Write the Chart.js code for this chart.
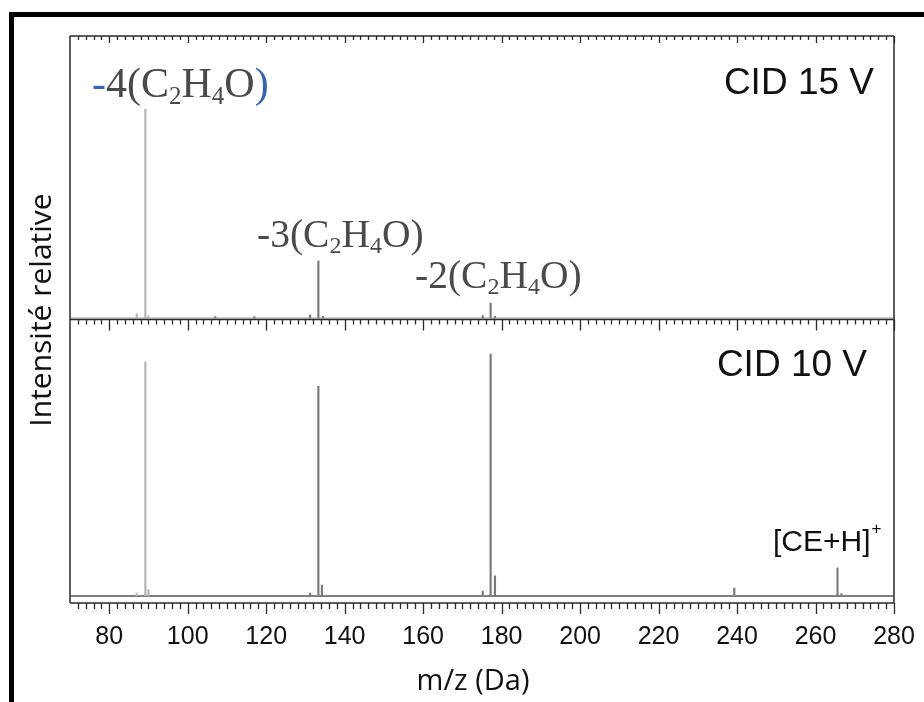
<!DOCTYPE html>
<html>
<head>
<meta charset="utf-8">
<script src="https://cdn.jsdelivr.net/npm/chart.js@4.4.0/dist/chart.umd.min.js"></script>
<style>
  html, body { margin: 0; padding: 0; background: #fff; }
  #wrap { position: relative; width: 924px; height: 702px; }
</style>
</head>
<body>
<div id="wrap"><canvas id="ms" width="924" height="702"></canvas></div>
<script>
// m/z axis
var xMin = 70, xMax = 280;
var xTicks = [80, 100, 120, 140, 160, 180, 200, 220, 240, 260, 280];

// CID 15 V spectrum, intensity relative to the m/z 89 peak
var mz15 = [87, 89.2, 90, 107, 117, 131.2, 133.3, 134.5, 175.2, 177.2, 178.3];
var int15 = [2, 100, 1, 0.7, 0.7, 1.5, 27.3, 0.8, 1.2, 7.2, 0.8];

// CID 10 V spectrum, intensity relative to the m/z 177 peak
var mz10 = [87, 89.2, 90, 131.2, 133.3, 134.2, 175.2, 177.2, 178.3, 239.3, 265.6, 266.6];
var int10 = [1.2, 96.7, 2.5, 1.2, 86.8, 4.5, 2, 100, 8.3, 3.3, 11.6, 1];

var BLUE = '#3b62ad';
var GREY_TXT = '#4a4a4a';
var AXIS = '#2b2b2b';

function toPoints(xs, ys) {
    return xs.map(function(x, i) { return { x: x, y: ys[i] }; });
}

function peakColor(c) {
    return c.raw && c.raw.x < 100 ? '#b4b4b4' : '#7a7a7a';
}

// draws "-n(C2H4O)" with subscripts
function drawFormula(ctx, x, y, n, size, blueEnds) {
    var parts = [
        { t: '-', blue: blueEnds },
        { t: n + '(C' },
        { t: '2', sub: true },
        { t: 'H' },
        { t: '4', sub: true },
        { t: 'O' },
        { t: ')', blue: blueEnds }
    ];
    ctx.textBaseline = 'alphabetic';
    ctx.textAlign = 'left';
    parts.forEach(function(p) {
        var fs = p.sub ? Math.round(size * 0.6) : size;
        ctx.font = fs + 'px "Liberation Serif", "Times New Roman", serif';
        ctx.fillStyle = p.blue ? BLUE : GREY_TXT;
        ctx.fillText(p.t, x, y + (p.sub ? size * 0.16 : 0));
        x += ctx.measureText(p.t).width;
    });
}

function drawTicks(ctx, xs, y, minorLen, majorLen) {
    ctx.beginPath();
    for (var v = xMin + 2; v <= xMax; v += 2) {
        var px = Math.round(xs.getPixelForValue(v)) + 0.5;
        var len = (v % 20 === 0) ? majorLen : minorLen;
        ctx.moveTo(px, y);
        ctx.lineTo(px, y + len);
    }
    ctx.stroke();
}

var decor = {
    id: 'decor',
    beforeDatasetsDraw: function(chart) {
        var ctx = chart.ctx;
        var yb = chart.scales.yBot, yt = chart.scales.yTop;
        ctx.save();
        // noise baselines
        ctx.strokeStyle = '#555';
        ctx.lineWidth = 1.5;
        ctx.beginPath();
        ctx.moveTo(chart.chartArea.left, yb.getPixelForValue(0));
        ctx.lineTo(chart.chartArea.right, yb.getPixelForValue(0));
        ctx.stroke();
        ctx.strokeStyle = '#999';
        ctx.lineWidth = 1;
        ctx.beginPath();
        ctx.moveTo(chart.chartArea.left, yt.getPixelForValue(0));
        ctx.lineTo(chart.chartArea.right, yt.getPixelForValue(0));
        ctx.stroke();
        ctx.restore();
    },
    afterDraw: function(chart) {
        var ctx = chart.ctx;
        var a = chart.chartArea;
        var xs = chart.scales.x;
        var mid = chart.scales.yBot.top;
        ctx.save();

        // outer frame
        ctx.strokeStyle = '#000';
        ctx.lineWidth = 5;
        ctx.strokeRect(11.5, 14.5, 940, 720);

        // plot frames
        ctx.strokeStyle = AXIS;
        ctx.lineWidth = 1.5;
        ctx.beginPath();
        ctx.moveTo(a.left, a.top); ctx.lineTo(a.right, a.top);
        ctx.moveTo(a.left, mid); ctx.lineTo(a.right, mid);
        ctx.moveTo(a.left, a.bottom); ctx.lineTo(a.right, a.bottom);
        ctx.moveTo(a.left, a.top); ctx.lineTo(a.left, a.bottom);
        ctx.moveTo(a.right, a.top); ctx.lineTo(a.right, a.bottom);
        ctx.stroke();

        ctx.lineWidth = 1.3;
        drawTicks(ctx, xs, a.top, 4, 7);
        drawTicks(ctx, xs, mid, 5, 11);
        drawTicks(ctx, xs, a.bottom, 6, 11);

        // peak annotations
        drawFormula(ctx, 92, 97, '4', 42, true);
        drawFormula(ctx, 257, 247, '3', 39.5, false);
        drawFormula(ctx, 415, 288, '2', 39.5, false);

        ctx.fillStyle = '#111';
        ctx.font = '37px "Liberation Sans", Arial, sans-serif';
        ctx.textAlign = 'right';
        ctx.textBaseline = 'alphabetic';
        ctx.fillText('CID 15 V', 874, 94);
        ctx.fillText('CID 10 V', 867, 376);

        ctx.font = '30px "Liberation Sans", Arial, sans-serif';
        ctx.textAlign = 'left';
        ctx.fillText('[CE+H]', 773, 551);
        var w = ctx.measureText('[CE+H]').width;
        ctx.font = '17px "Liberation Sans", Arial, sans-serif';
        ctx.fillText('+', 773 + w + 1, 534);

        // axis titles
        ctx.font = '29px "Open Sans", sans-serif';
        ctx.textAlign = 'center';
        ctx.fillStyle = '#111';
        ctx.fillText('m/z (Da)', 473, 690);

        ctx.translate(51, 310);
        ctx.rotate(-Math.PI / 2);
        ctx.font = '30px "Open Sans", sans-serif';
        ctx.fillText('Intensité relative', 0, 0);
        ctx.restore();
    }
};

new Chart(document.getElementById('ms').getContext('2d'), {
    type: 'bar',
    data: {
        datasets: [
            {
                label: 'CID 15 V',
                data: toPoints(mz15, int15),
                yAxisID: 'yTop',
                backgroundColor: peakColor,
                barThickness: 1.5,
                grouped: false
            },
            {
                label: 'CID 10 V',
                data: toPoints(mz10, int10),
                yAxisID: 'yBot',
                backgroundColor: peakColor,
                barThickness: 1.5,
                grouped: false
            }
        ]
    },
    options: {
        responsive: false,
        animation: false,
        devicePixelRatio: 1,
        layout: { padding: { left: 70, right: 30, top: 36, bottom: 47 } },
        plugins: {
            legend: { display: false },
            tooltip: { enabled: false }
        },
        scales: {
            x: {
                type: 'linear',
                min: xMin,
                max: xMax,
                offset: false,
                afterBuildTicks: function(scale) {
                    scale.ticks = xTicks.map(function(v) { return { value: v }; });
                },
                grid: { display: false, drawTicks: true, tickLength: 16, offset: false },
                border: { display: false },
                ticks: {
                    padding: 3,
                    maxRotation: 0,
                    autoSkip: false,
                    color: '#111',
                    font: { family: '"Liberation Sans", Arial, sans-serif', size: 25 }
                }
            },
            // left-stacked scales: the one listed last is placed on top
            yBot: {
                type: 'linear',
                position: 'left',
                stack: 'panels',
                stackWeight: 1,
                min: -2.9,
                max: 114.3,
                ticks: { display: false },
                grid: { display: false, drawTicks: false },
                border: { display: false }
            },
            yTop: {
                type: 'linear',
                position: 'left',
                stack: 'panels',
                stackWeight: 1,
                min: -0.7,
                max: 134.9,
                ticks: { display: false },
                grid: { display: false, drawTicks: false },
                border: { display: false }
            }
        }
    },
    plugins: [decor]
});
</script>
</body>
</html>
